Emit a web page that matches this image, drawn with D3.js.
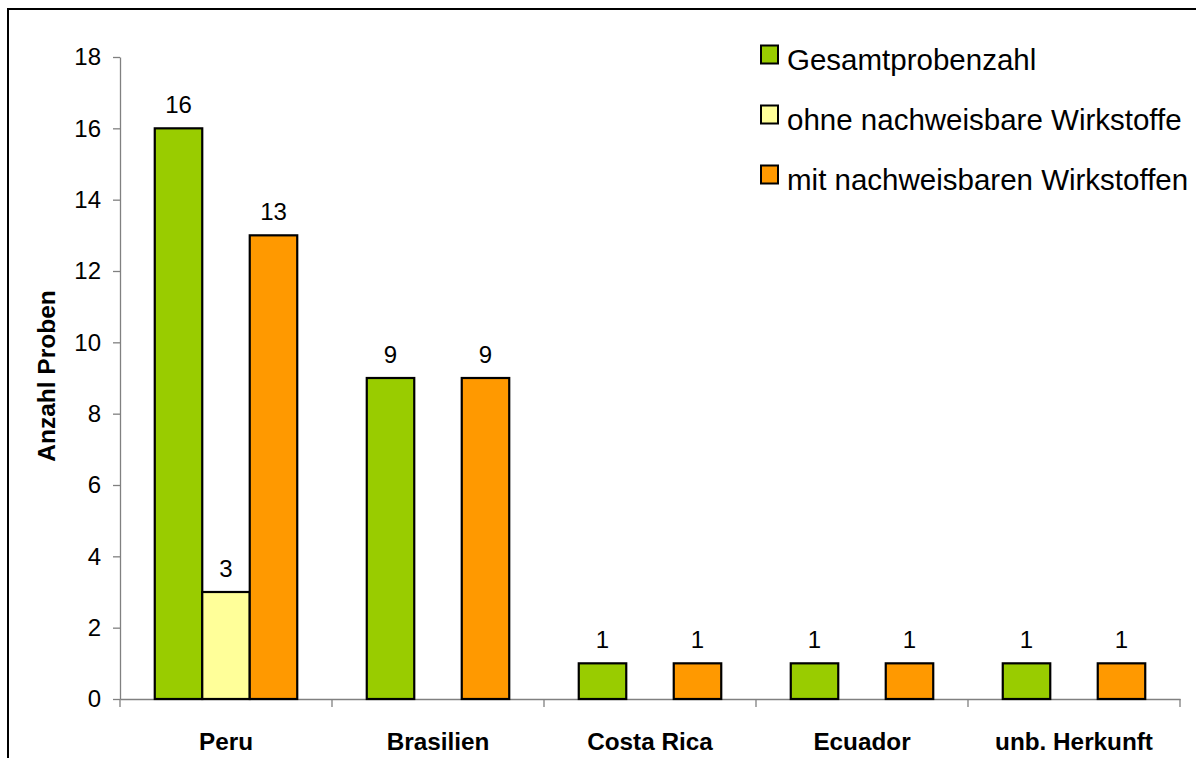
<!DOCTYPE html>
<html>
<head>
<meta charset="utf-8">
<script src="https://cdn.jsdelivr.net/npm/d3@7"></script>
<style>
  html, body { margin: 0; padding: 0; background: #fff; }
  svg { display: block; font-family: "Liberation Sans", Arial, Helvetica, sans-serif; }
</style>
</head>
<body>
<svg id="chart" width="1196" height="758"></svg>
<script>
// Herkunftsländer der Proben
const categories = ["Peru", "Brasilien", "Costa Rica", "Ecuador", "unb. Herkunft"];

// Serien (null = kein Balken)
const seriesNames = ["Gesamtprobenzahl", "ohne nachweisbare Wirkstoffe", "mit nachweisbaren Wirkstoffen"];
const gesamt = [16, 9, 1, 1, 1];
const ohneWirkstoffe = [3, null, null, null, null];
const mitWirkstoffen = [13, 9, 1, 1, 1];
const seriesColors = ["#99CC00", "#FFFF99", "#FF9900"];

const yTicks = [0, 2, 4, 6, 8, 10, 12, 14, 16, 18];
const yTitle = "Anzahl Proben";

const seriesValues = [gesamt, ohneWirkstoffe, mitWirkstoffen];

const svg = d3.select("#chart");

// Rahmen (nur oben und links sichtbar)
svg.append("path")
  .attr("d", "M8,762V9H1200")
  .attr("fill", "none")
  .attr("stroke", "#000")
  .attr("stroke-width", 2);

const plot = { left: 120, right: 1180, top: 57, bottom: 699 };

const y = d3.scaleLinear().domain([0, 18]).range([plot.bottom, plot.top]);
const x = d3.scaleBand().domain(categories).range([plot.left, plot.right]).padding(0);
const xs = d3.scaleBand().domain(seriesNames).range([0, x.bandwidth()])
  .paddingInner(0).paddingOuter(0.732);

// Y-Achse
const yAxis = svg.append("g")
  .attr("transform", `translate(${plot.left},0)`)
  .call(d3.axisLeft(y).tickValues(yTicks).tickSize(7).tickSizeOuter(0).tickPadding(12));
yAxis.select(".domain").attr("stroke", "#808080").attr("stroke-width", 1.3);
yAxis.selectAll(".tick line").attr("stroke", "#808080").attr("stroke-width", 1.3);
yAxis.selectAll(".tick text")
  .attr("font-size", 24)
  .attr("fill", "#000")
  .style("font-family", "'Liberation Sans', Arial, sans-serif");

// X-Achse mit Kategoriegrenzen als Striche
const xAxis = svg.append("g")
  .attr("transform", `translate(0,${plot.bottom})`)
  .call(d3.axisBottom(x).tickSize(0).tickSizeOuter(0));
xAxis.select(".domain").attr("stroke", "#808080").attr("stroke-width", 1.3);
xAxis.selectAll(".tick text")
  .attr("y", 51)
  .attr("dy", 0)
  .attr("font-size", 24.3)
  .attr("font-weight", "bold")
  .attr("fill", "#000")
  .style("font-family", "'Liberation Sans', Arial, sans-serif");

const boundaries = categories.map(c => x(c)).concat([x(categories[categories.length - 1]) + x.bandwidth()]);
svg.append("g").selectAll("line")
  .data(boundaries)
  .join("line")
  .attr("x1", d => d).attr("x2", d => d)
  .attr("y1", plot.bottom).attr("y2", plot.bottom + 8)
  .attr("stroke", "#808080")
  .attr("stroke-width", 1.3);

// Balken
const barData = [];
categories.forEach((c, ci) => {
  seriesNames.forEach((s, si) => {
    const v = seriesValues[si][ci];
    if (v != null) barData.push({ c, s, si, v });
  });
});

svg.append("g").selectAll("rect")
  .data(barData)
  .join("rect")
  .attr("x", d => x(d.c) + xs(d.s))
  .attr("y", d => y(d.v))
  .attr("width", xs.bandwidth())
  .attr("height", d => y(0) - y(d.v))
  .attr("fill", d => seriesColors[d.si])
  .attr("stroke", "#000")
  .attr("stroke-width", 2.2);

// Wertebeschriftungen
svg.append("g").selectAll("text")
  .data(barData)
  .join("text")
  .attr("x", d => x(d.c) + xs(d.s) + xs.bandwidth() / 2)
  .attr("y", d => y(d.v) - 15)
  .attr("text-anchor", "middle")
  .attr("font-size", 24)
  .attr("fill", "#000")
  .text(d => d.v);

// Achsentitel
svg.append("text")
  .attr("transform", "translate(55,376) rotate(-90)")
  .attr("text-anchor", "middle")
  .attr("font-size", 24.5)
  .attr("font-weight", "bold")
  .attr("fill", "#000")
  .text(yTitle);

// Legende
const legend = svg.append("g").selectAll("g")
  .data(seriesNames)
  .join("g")
  .attr("transform", (d, i) => `translate(761,${54.5 + i * 60})`);
legend.append("rect")
  .attr("x", 0).attr("y", -9)
  .attr("width", 17).attr("height", 18)
  .attr("fill", (d, i) => seriesColors[i])
  .attr("stroke", "#000")
  .attr("stroke-width", 2);
legend.append("text")
  .attr("x", 26)
  .attr("y", 15)
  .attr("font-size", 29.5)
  .attr("fill", "#000")
  .text(d => d);
</script>
</body>
</html>
